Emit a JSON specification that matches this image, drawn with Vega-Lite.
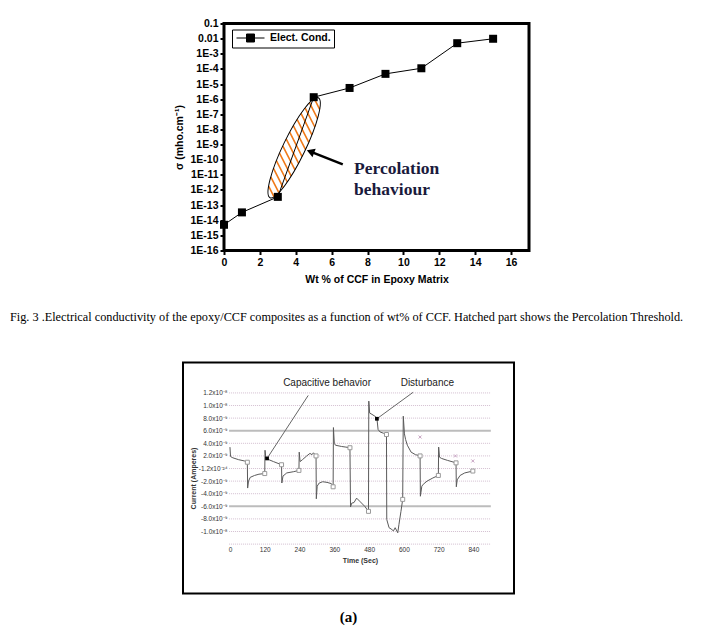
{
  "$schema": "https://vega.github.io/schema/vega-lite/v6.json",
  "padding": {"left": 10, "top": 18.5, "right": 0, "bottom": 0},
  "background": "white",
  "config": {"font": "Liberation Sans", "axis": {"labelOverlap": false}},
  "spacing": 38,
  "center": false,
  "datasets": {
    "conductivity": [
      {"wt": 0, "sigma": 5e-15},
      {"wt": 1, "sigma": 3.3e-14},
      {"wt": 3, "sigma": 3.5e-13},
      {"wt": 5, "sigma": 1.35e-6},
      {"wt": 7, "sigma": 5.5e-6},
      {"wt": 9, "sigma": 4.7e-5},
      {"wt": 11, "sigma": 1.1e-4},
      {"wt": 13, "sigma": 5e-3},
      {"wt": 15, "sigma": 9.8e-3}
    ],
    "percolation": [{"wt": 3.91, "sigma": 6.2e-10}],
    "pointer": [{"wt": 6.62, "sigma": 4.9e-11, "wt_end": 4.82, "sigma_end": 3.4e-10}],
    "note": [{"wt": 7.25, "sigma": 2.6e-11, "text": ["Percolation", "behaviour"]}],
    "current": [
      {"time": 0, "current_nA": 3.4}, {"time": 2, "current_nA": 1.9}, {"time": 10, "current_nA": 1.7},
      {"time": 30, "current_nA": 1.4}, {"time": 50, "current_nA": 1.2}, {"time": 60, "current_nA": 1.0},
      {"time": 61, "current_nA": -3.1}, {"time": 64, "current_nA": -2.0}, {"time": 70, "current_nA": -1.4},
      {"time": 85, "current_nA": -1.1}, {"time": 100, "current_nA": -0.9}, {"time": 120, "current_nA": -0.8},
      {"time": 121, "current_nA": 2.9}, {"time": 124, "current_nA": 1.6}, {"time": 129, "current_nA": 1.5},
      {"time": 150, "current_nA": 1.1}, {"time": 178, "current_nA": 0.6},
      {"time": 179, "current_nA": -2.3}, {"time": 183, "current_nA": -1.2}, {"time": 196, "current_nA": -0.7},
      {"time": 220, "current_nA": -0.5}, {"time": 238, "current_nA": -0.3},
      {"time": 239, "current_nA": 2.6}, {"time": 242, "current_nA": 1.1}, {"time": 250, "current_nA": 1.4},
      {"time": 265, "current_nA": 2.0}, {"time": 276, "current_nA": 2.4}, {"time": 283, "current_nA": 2.2},
      {"time": 288, "current_nA": 2.5}, {"time": 297, "current_nA": 2.0},
      {"time": 298, "current_nA": -4.8}, {"time": 301, "current_nA": -2.8}, {"time": 308, "current_nA": -2.3},
      {"time": 320, "current_nA": -2.1}, {"time": 335, "current_nA": -2.2}, {"time": 350, "current_nA": -2.4},
      {"time": 356, "current_nA": -2.9},
      {"time": 357, "current_nA": 6.5}, {"time": 360, "current_nA": 4.0}, {"time": 364, "current_nA": 3.7},
      {"time": 385, "current_nA": 3.5}, {"time": 400, "current_nA": 3.4}, {"time": 414, "current_nA": 3.3},
      {"time": 416, "current_nA": -6.1}, {"time": 420, "current_nA": -5.5}, {"time": 428, "current_nA": -5.4},
      {"time": 437, "current_nA": -4.7}, {"time": 450, "current_nA": -5.3}, {"time": 465, "current_nA": -6.0},
      {"time": 478, "current_nA": -6.8},
      {"time": 479, "current_nA": 10.7}, {"time": 482, "current_nA": 8.8}, {"time": 490, "current_nA": 8.6},
      {"time": 500, "current_nA": 8.3}, {"time": 507, "current_nA": 8.0}, {"time": 511, "current_nA": 6.2},
      {"time": 518, "current_nA": 5.8}, {"time": 530, "current_nA": 5.6}, {"time": 540, "current_nA": 5.4},
      {"time": 541, "current_nA": -8.1}, {"time": 549, "current_nA": -9.4}, {"time": 556, "current_nA": -9.6},
      {"time": 564, "current_nA": -9.9}, {"time": 570, "current_nA": -9.4}, {"time": 579, "current_nA": -10.2},
      {"time": 583, "current_nA": -8.9}, {"time": 590, "current_nA": -6.8}, {"time": 596, "current_nA": -4.9},
      {"time": 598, "current_nA": 8.3}, {"time": 602, "current_nA": 5.5}, {"time": 606, "current_nA": 4.6},
      {"time": 612, "current_nA": 3.7}, {"time": 625, "current_nA": 2.6}, {"time": 640, "current_nA": 2.2},
      {"time": 656, "current_nA": 2.0},
      {"time": 657, "current_nA": -4.4}, {"time": 662, "current_nA": -2.8}, {"time": 667, "current_nA": -2.5},
      {"time": 680, "current_nA": -2.0}, {"time": 700, "current_nA": -1.5}, {"time": 719, "current_nA": -1.1},
      {"time": 720, "current_nA": 3.4}, {"time": 723, "current_nA": 1.8}, {"time": 730, "current_nA": 1.6},
      {"time": 750, "current_nA": 1.3}, {"time": 780, "current_nA": 0.9},
      {"time": 781, "current_nA": -2.9}, {"time": 784, "current_nA": -1.8}, {"time": 794, "current_nA": -1.1},
      {"time": 810, "current_nA": -0.7}, {"time": 838, "current_nA": -0.4}
    ],
    "markers": [
      {"time": 60, "current_nA": 1.0}, {"time": 120, "current_nA": -0.8}, {"time": 178, "current_nA": 0.6},
      {"time": 238, "current_nA": -0.3}, {"time": 297, "current_nA": 2.0}, {"time": 356, "current_nA": -2.9},
      {"time": 414, "current_nA": 3.3}, {"time": 478, "current_nA": -6.8}, {"time": 540, "current_nA": 5.4},
      {"time": 596, "current_nA": -4.9}, {"time": 656, "current_nA": 2.0}, {"time": 719, "current_nA": -1.1},
      {"time": 780, "current_nA": 0.9}, {"time": 838, "current_nA": -0.4}
    ],
    "crosses": [
      {"time": 656, "current_nA": 5.0}, {"time": 778, "current_nA": 2.0}, {"time": 838, "current_nA": 1.2}
    ],
    "grid": [
      {"current_nA": 12}, {"current_nA": 10}, {"current_nA": 8}, {"current_nA": 6}, {"current_nA": 4},
      {"current_nA": 2}, {"current_nA": 0}, {"current_nA": -2}, {"current_nA": -4}, {"current_nA": -6},
      {"current_nA": -8}, {"current_nA": -10}, {"current_nA": -12}
    ],
    "callouts": [
      {"label": "Capacitive behavior", "label_time": 335, "label_current": 13.6, "time": 270, "current_nA": 11.6, "tip_time": 128, "tip_current": 1.6},
      {"label": "Disturbance", "label_time": 681, "label_current": 13.6, "time": 632, "current_nA": 12.1, "tip_time": 507, "tip_current": 7.9}
    ]
  },
  "vconcat": [
    {
      "width": 346,
      "height": 227,
      "view": {"stroke": null},
      "title": {
        "text": "Fig. 3 .Electrical conductivity of the epoxy/CCF composites as a function of wt% of CCF. Hatched part shows the Percolation Threshold.",
        "orient": "bottom", "anchor": "start", "frame": "group", "dx": -173, "offset": 26.5,
        "font": "Liberation Serif", "fontSize": 12.25, "fontWeight": "normal", "color": "black"
      },
      "layer": [
        {
          "data": {"values": [{}]},
          "mark": {"type": "rect", "fill": null, "stroke": "black", "strokeWidth": 3},
          "encoding": {
            "x": {"datum": 0, "type": "quantitative"},
            "x2": {"datum": 17},
            "y": {"datum": 1e-16, "type": "quantitative"},
            "y2": {"datum": 0.1}
          }
        },
        {
          "data": {"name": "percolation"},
          "mark": {"type": "point", "filled": false, "opacity": 1, "stroke": "#f07a1a", "strokeWidth": 1.6, "size": 12321, "angle": 25.8,
            "shape": "M-0.059,-0.955L0.113,-0.824M-0.105,-0.850L0.151,-0.655M-0.136,-0.733L0.173,-0.498M-0.158,-0.610L0.188,-0.348M-0.175,-0.483L0.196,-0.201M-0.187,-0.352L0.200,-0.058M-0.195,-0.218L0.199,0.081M-0.199,-0.081L0.195,0.218M-0.200,0.058L0.187,0.352M-0.196,0.201L0.175,0.483M-0.188,0.348L0.158,0.610M-0.173,0.498L0.136,0.733M-0.151,0.655L0.105,0.850M-0.113,0.824L0.059,0.955"},
          "encoding": {
            "x": {"field": "wt", "type": "quantitative"},
            "y": {"field": "sigma", "type": "quantitative"}
          }
        },
        {
          "data": {"name": "percolation"},
          "mark": {"type": "point", "filled": false, "opacity": 1, "stroke": "black", "strokeWidth": 1, "size": 12321, "angle": 25.8,
            "shape": "M0,-1C0.11,-1 0.2,-0.552 0.2,0C0.2,0.552 0.11,1 0,1C-0.11,1 -0.2,0.552 -0.2,0C-0.2,-0.552 -0.11,-1 0,-1Z"},
          "encoding": {
            "x": {"field": "wt", "type": "quantitative"},
            "y": {"field": "sigma", "type": "quantitative"}
          }
        },
        {
          "data": {"name": "conductivity"},
          "mark": {"type": "line", "color": "black", "strokeWidth": 1},
          "encoding": {
            "x": {
              "field": "wt", "type": "quantitative",
              "scale": {"domain": [-2.285, 17], "nice": false, "zero": false},
              "axis": {
                "title": "Wt % of CCF in Epoxy Matrix", "values": [0, 2, 4, 6, 8, 10, 12, 14, 16], "format": "d", "labelOverlap": false, "tickCount": 30,
                "grid": false, "domain": false, "ticks": true, "tickSize": 4, "tickWidth": 2, "tickColor": "black",
                "labelPadding": 3, "labelFont": "Liberation Sans", "labelFontWeight": "bold", "labelFontSize": 10.5, "labelColor": "black",
                "titleFont": "Liberation Sans", "titleFontWeight": "bold", "titleFontSize": 10.5, "titleColor": "black", "titlePadding": 6,
                "titleX": 193.5
              }
            },
            "y": {
              "field": "sigma", "type": "quantitative",
              "scale": {"type": "log", "domain": [1e-16, 0.1], "nice": false},
              "axis": {
                "title": "σ (mho.cm⁻¹)", "offset": -41, "labelOverlap": false,
                "values": [1e-16, 1e-15, 1e-14, 1e-13, 1e-12, 1e-11, 1e-10, 1e-9, 1e-8, 1e-7, 1e-6, 1e-5, 1e-4, 1e-3, 0.01, 0.1],
                "labelExpr": "datum.value > 0.05 ? '0.1' : (datum.value > 0.005 ? '0.01' : '1E-' + round(-log(datum.value) / LN10))",
                "grid": false, "domain": false, "ticks": true, "tickSize": 4, "tickWidth": 2, "tickColor": "black",
                "labelPadding": 2, "labelFont": "Liberation Sans", "labelFontWeight": "bold", "labelFontSize": 10.5, "labelColor": "black",
                "titleFont": "Liberation Sans", "titleFontWeight": "bold", "titleFontSize": 10.5, "titleColor": "black", "titlePadding": 5
              }
            }
          }
        },
        {
          "data": {"name": "conductivity"},
          "mark": {"type": "point", "shape": "square", "filled": true, "opacity": 1, "size": 64, "color": "black"},
          "encoding": {
            "x": {"field": "wt", "type": "quantitative"},
            "y": {"field": "sigma", "type": "quantitative"},
            "color": {
              "datum": "Elect. Cond.", "type": "nominal",
              "scale": {"range": ["black"]},
              "legend": {
                "title": null, "orient": "none", "legendX": 49, "legendY": 6, "padding": 3,
                "strokeColor": "black", "fillColor": "white", "cornerRadius": 0,
                "symbolType": "M-2.8,0H2.8M-0.8,-0.8H0.8V0.8H-0.8Z", "symbolSize": 100, "symbolOffset": 10,
                "symbolFillColor": "black", "symbolStrokeColor": "black", "symbolStrokeWidth": 1,
                "labelOffset": 14, "labelFont": "Liberation Sans", "labelFontWeight": "bold", "labelFontSize": 10.5, "labelColor": "black",
                "encode": {"symbols": {"update": {"stroke": {"value": "black"}, "strokeWidth": {"value": 1}, "fill": {"value": "black"}, "opacity": {"value": 1}}}}
              }
            }
          }
        },
        {
          "data": {"name": "pointer"},
          "mark": {"type": "rule", "color": "black", "strokeWidth": 2.5},
          "encoding": {
            "x": {"field": "wt", "type": "quantitative"},
            "y": {"field": "sigma", "type": "quantitative"},
            "x2": {"field": "wt_end"},
            "y2": {"field": "sigma_end"}
          }
        },
        {
          "data": {"name": "pointer"},
          "mark": {"type": "point", "shape": "triangle-up", "filled": true, "opacity": 1, "color": "black", "size": 80, "angle": 291},
          "encoding": {
            "x": {"field": "wt_end", "type": "quantitative"},
            "y": {"field": "sigma_end", "type": "quantitative"}
          }
        },
        {
          "data": {"name": "note"},
          "mark": {"type": "text", "align": "left", "baseline": "middle", "font": "Liberation Serif", "fontWeight": "bold", "fontSize": 17.5, "lineHeight": 21, "color": "#1a1a3c"},
          "encoding": {
            "x": {"field": "wt", "type": "quantitative"},
            "y": {"field": "sigma", "type": "quantitative"},
            "text": {"field": "text"}
          }
        }
      ]
    },
    {
      "width": 331,
      "height": 231,
      "view": {"stroke": "black", "strokeWidth": 2, "fill": "white"},
      "title": {
        "text": "(a)", "orient": "bottom", "anchor": "middle", "offset": 16,
        "font": "Liberation Serif", "fontSize": 15, "fontWeight": "bold", "color": "black"
      },
      "layer": [
        {
          "data": {"name": "grid"},
          "mark": {"type": "rule"},
          "encoding": {
            "y": {"field": "current_nA", "type": "quantitative"},
            "x": {"datum": -3},
            "x2": {"datum": 900},
            "color": {"condition": {"test": "abs(datum.current_nA) == 6", "value": "#bcbcbc"}, "value": "#d3bfd0"},
            "strokeWidth": {"condition": {"test": "abs(datum.current_nA) == 6", "value": 2}, "value": 1},
            "strokeDash": {"condition": {"test": "abs(datum.current_nA) == 6", "value": [1, 0]}, "value": [1, 1]}
          }
        },
        {
          "data": {"name": "current"},
          "mark": {"type": "line", "color": "#5a5a5a", "strokeWidth": 1},
          "encoding": {
            "x": {
              "field": "time", "type": "quantitative",
              "scale": {"domain": [-162, 980], "nice": false, "zero": false},
              "axis": {
                "title": "Time (Sec)", "offset": -50, "values": [0, 120, 240, 360, 480, 600, 720, 840], "format": "d", "labelOverlap": false, "tickCount": 30,
                "grid": false, "domain": false, "ticks": false, "labelPadding": 3,
                "labelFont": "Liberation Sans", "labelFontSize": 6.5, "labelColor": "#333",
                "titleFont": "Liberation Sans", "titleFontSize": 7, "titleFontWeight": "bold", "titleColor": "#333",
                "titlePadding": 3, "titleX": 177
              }
            },
            "y": {
              "field": "current_nA", "type": "quantitative",
              "scale": {"domain": [-19.84, 16.83], "nice": false, "zero": false},
              "axis": {
                "title": "Current (Amperes)", "offset": -46, "labelOverlap": false, "tickCount": 30,
                "values": [12, 10, 8, 6, 4, 2, 0, -2, -4, -6, -8, -10],
                "labelExpr": "datum.value == 12 ? '1.2x10⁻⁸' : (datum.value == 10 ? '1.0x10⁻⁸' : (datum.value == 0 ? '-1.2x10⁻²⁴' : (datum.value == -10 ? '-1.0x10⁻⁸' : (datum.value < 0 ? '-' : '') + format(abs(datum.value), '.1f') + 'x10⁻⁹')))",
                "grid": false, "domain": false, "ticks": false, "labelPadding": 2,
                "labelFont": "Liberation Sans", "labelFontSize": 6.5, "labelColor": "#333",
                "titleFont": "Liberation Sans", "titleFontSize": 7, "titleFontWeight": "bold", "titleColor": "#333",
                "titlePadding": 2
              }
            }
          }
        },
        {
          "data": {"name": "markers"},
          "mark": {"type": "point", "shape": "square", "filled": false, "opacity": 1, "stroke": "#9a9a9a", "fill": "white", "strokeWidth": 1, "size": 16},
          "encoding": {
            "x": {"field": "time", "type": "quantitative"},
            "y": {"field": "current_nA", "type": "quantitative"}
          }
        },
        {
          "data": {"name": "crosses"},
          "mark": {"type": "point", "shape": "M-1,-1L1,1M-1,1L1,-1", "filled": false, "opacity": 1, "stroke": "#c7a3c2", "strokeWidth": 1, "size": 9},
          "encoding": {
            "x": {"field": "time", "type": "quantitative"},
            "y": {"field": "current_nA", "type": "quantitative"}
          }
        },
        {
          "data": {"name": "callouts"},
          "mark": {"type": "rule", "color": "#666", "strokeWidth": 1},
          "encoding": {
            "x": {"field": "time", "type": "quantitative"},
            "y": {"field": "current_nA", "type": "quantitative"},
            "x2": {"field": "tip_time"},
            "y2": {"field": "tip_current"}
          }
        },
        {
          "data": {"name": "callouts"},
          "mark": {"type": "point", "shape": "square", "filled": true, "opacity": 1, "color": "black", "size": 14},
          "encoding": {
            "x": {"field": "tip_time", "type": "quantitative"},
            "y": {"field": "tip_current", "type": "quantitative"}
          }
        },
        {
          "data": {"name": "callouts"},
          "mark": {"type": "text", "align": "center", "baseline": "middle", "font": "Liberation Sans", "fontSize": 10, "color": "#222"},
          "encoding": {
            "x": {"field": "label_time", "type": "quantitative"},
            "y": {"field": "label_current", "type": "quantitative"},
            "text": {"field": "label"}
          }
        }
      ]
    }
  ]
}
